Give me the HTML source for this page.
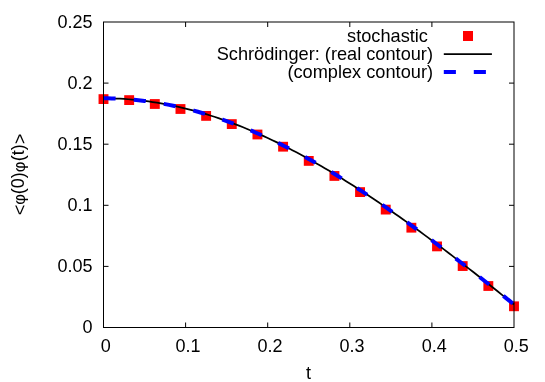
<!DOCTYPE html>
<html><head><meta charset="utf-8"><title>plot</title>
<style>
html,body{margin:0;padding:0;background:#fff;}
svg{display:block;will-change:transform;}
text{font-family:"Liberation Sans",sans-serif;font-size:18px;fill:#000;}
</style></head><body>
<svg width="545" height="382" viewBox="0 0 545 382">
<rect width="545" height="382" fill="#fff"/>
<g fill="#ff0000"><rect x="98.55" y="94.20" width="9.9" height="9.8"/><rect x="124.21" y="95.20" width="9.9" height="9.8"/><rect x="149.86" y="99.10" width="9.9" height="9.8"/><rect x="175.52" y="104.10" width="9.9" height="9.8"/><rect x="201.18" y="111.00" width="9.9" height="9.8"/><rect x="226.83" y="119.20" width="9.9" height="9.8"/><rect x="252.49" y="129.60" width="9.9" height="9.8"/><rect x="278.14" y="141.80" width="9.9" height="9.8"/><rect x="303.80" y="156.00" width="9.9" height="9.8"/><rect x="329.46" y="171.05" width="9.9" height="9.8"/><rect x="355.11" y="187.20" width="9.9" height="9.8"/><rect x="380.77" y="204.70" width="9.9" height="9.8"/><rect x="406.43" y="222.80" width="9.9" height="9.8"/><rect x="432.08" y="241.50" width="9.9" height="9.8"/><rect x="457.74" y="261.15" width="9.9" height="9.8"/><rect x="483.39" y="281.10" width="9.9" height="9.8"/><rect x="509.05" y="301.40" width="9.9" height="9.8"/><rect x="463" y="31" width="10" height="10"/></g>
<path d="M103.50,98.33 L107.61,98.35 L111.71,98.43 L115.81,98.56 L119.92,98.74 L124.03,98.97 L128.13,99.25 L132.24,99.59 L136.34,99.97 L140.44,100.41 L144.55,100.90 L148.66,101.44 L152.76,102.03 L156.87,102.67 L160.97,103.36 L165.07,104.10 L169.18,104.89 L173.29,105.73 L177.39,106.62 L181.50,107.55 L185.60,108.54 L189.70,109.58 L193.81,110.66 L197.92,111.79 L202.02,112.97 L206.12,114.20 L210.23,115.47 L214.34,116.79 L218.44,118.16 L222.54,119.57 L226.65,121.03 L230.75,122.53 L234.86,124.08 L238.97,125.67 L243.07,127.31 L247.18,128.98 L251.28,130.71 L255.38,132.47 L259.49,134.27 L263.60,136.12 L267.70,138.01 L271.81,139.94 L275.91,141.90 L280.01,143.91 L284.12,145.95 L288.23,148.04 L292.33,150.16 L296.44,152.32 L300.54,154.51 L304.64,156.74 L308.75,159.01 L312.86,161.31 L316.96,163.64 L321.06,166.01 L325.17,168.41 L329.27,170.84 L333.38,173.31 L337.49,175.80 L341.59,178.33 L345.69,180.89 L349.80,183.47 L353.90,186.09 L358.01,188.73 L362.12,191.40 L366.22,194.09 L370.32,196.82 L374.43,199.57 L378.54,202.34 L382.64,205.14 L386.75,207.96 L390.85,210.81 L394.95,213.68 L399.06,216.57 L403.17,219.48 L407.27,222.41 L411.38,225.37 L415.48,228.34 L419.58,231.33 L423.69,234.35 L427.80,237.38 L431.90,240.43 L436.00,243.49 L440.11,246.57 L444.22,249.67 L448.32,252.79 L452.43,255.92 L456.53,259.07 L460.63,262.23 L464.74,265.40 L468.85,268.59 L472.95,271.79 L477.06,275.01 L481.16,278.24 L485.27,281.48 L489.37,284.74 L493.48,288.00 L497.58,291.28 L501.69,294.57 L505.79,297.87 L509.89,301.18 L514.00,304.51" fill="none" stroke="#000" stroke-width="1.75"/>
<line x1="443.8" y1="54" x2="491.9" y2="54" stroke="#000" stroke-width="1.75"/>
<path d="M103.50,98.33 L107.61,98.35 L111.71,98.43 L115.81,98.56 L119.92,98.74 L124.03,98.97 L128.13,99.25 L132.24,99.59 L136.34,99.97 L140.44,100.41 L144.55,100.90 L148.66,101.44 L152.76,102.03 L156.87,102.67 L160.97,103.36 L165.07,104.10 L169.18,104.89 L173.29,105.73 L177.39,106.62 L181.50,107.55 L185.60,108.54 L189.70,109.58 L193.81,110.66 L197.92,111.79 L202.02,112.97 L206.12,114.20 L210.23,115.47 L214.34,116.79 L218.44,118.16 L222.54,119.57 L226.65,121.03 L230.75,122.53 L234.86,124.08 L238.97,125.67 L243.07,127.31 L247.18,128.98 L251.28,130.71 L255.38,132.47 L259.49,134.27 L263.60,136.12 L267.70,138.01 L271.81,139.94 L275.91,141.90 L280.01,143.91 L284.12,145.95 L288.23,148.04 L292.33,150.16 L296.44,152.32 L300.54,154.51 L304.64,156.74 L308.75,159.01 L312.86,161.31 L316.96,163.64 L321.06,166.01 L325.17,168.41 L329.27,170.84 L333.38,173.31 L337.49,175.80 L341.59,178.33 L345.69,180.89 L349.80,183.47 L353.90,186.09 L358.01,188.73 L362.12,191.40 L366.22,194.09 L370.32,196.82 L374.43,199.57 L378.54,202.34 L382.64,205.14 L386.75,207.96 L390.85,210.81 L394.95,213.68 L399.06,216.57 L403.17,219.48 L407.27,222.41 L411.38,225.37 L415.48,228.34 L419.58,231.33 L423.69,234.35 L427.80,237.38 L431.90,240.43 L436.00,243.49 L440.11,246.57 L444.22,249.67 L448.32,252.79 L452.43,255.92 L456.53,259.07 L460.63,262.23 L464.74,265.40 L468.85,268.59 L472.95,271.79 L477.06,275.01 L481.16,278.24 L485.27,281.48 L489.37,284.74 L493.48,288.00 L497.58,291.28 L501.69,294.57 L505.79,297.87 L509.89,301.18 L514.00,304.51" fill="none" stroke="#0000ff" stroke-width="4" stroke-dasharray="12.1 18.21"/>
<line x1="443.8" y1="72.05" x2="491.9" y2="72.05" stroke="#0000ff" stroke-width="4" stroke-dasharray="12.1 17.9"/>
<g stroke="#000" stroke-width="1" fill="none"><line x1="185.60" y1="327.5" x2="185.60" y2="322.5"/><line x1="185.60" y1="22.0" x2="185.60" y2="27.0"/><line x1="267.70" y1="327.5" x2="267.70" y2="322.5"/><line x1="267.70" y1="22.0" x2="267.70" y2="27.0"/><line x1="349.80" y1="327.5" x2="349.80" y2="322.5"/><line x1="349.80" y1="22.0" x2="349.80" y2="27.0"/><line x1="431.90" y1="327.5" x2="431.90" y2="322.5"/><line x1="431.90" y1="22.0" x2="431.90" y2="27.0"/><line x1="103.5" y1="266.40" x2="108.5" y2="266.40"/><line x1="514.0" y1="266.40" x2="509.0" y2="266.40"/><line x1="103.5" y1="205.30" x2="108.5" y2="205.30"/><line x1="514.0" y1="205.30" x2="509.0" y2="205.30"/><line x1="103.5" y1="144.20" x2="108.5" y2="144.20"/><line x1="514.0" y1="144.20" x2="509.0" y2="144.20"/><line x1="103.5" y1="83.10" x2="108.5" y2="83.10"/><line x1="514.0" y1="83.10" x2="509.0" y2="83.10"/>
<rect x="103.5" y="22.0" width="410.5" height="305.5"/></g>
<g><text x="105.80" y="352" text-anchor="middle">0</text><text x="187.90" y="352" text-anchor="middle">0.1</text><text x="270.00" y="352" text-anchor="middle">0.2</text><text x="352.10" y="352" text-anchor="middle">0.3</text><text x="434.20" y="352" text-anchor="middle">0.4</text><text x="516.30" y="352" text-anchor="middle">0.5</text><text x="92.6" y="333.40" text-anchor="end">0</text><text x="92.6" y="272.30" text-anchor="end">0.05</text><text x="92.6" y="211.20" text-anchor="end">0.1</text><text x="92.6" y="150.10" text-anchor="end">0.15</text><text x="92.6" y="89.00" text-anchor="end">0.2</text><text x="92.6" y="27.90" text-anchor="end">0.25</text></g>
<text x="433" y="41.8" text-anchor="end" style="font-size:18.2px" xml:space="preserve">stochastic </text>
<text x="433" y="59.9" text-anchor="end" style="font-size:18.2px">Schrödinger: (real contour)</text>
<text x="433" y="77.5" text-anchor="end" style="font-size:18.2px">(complex contour)</text>
<text x="308.5" y="379" text-anchor="middle">t</text>
<text transform="translate(24.2,215.2) rotate(-90)"><tspan dy="1.5">&lt;</tspan><tspan dy="-0.6" style="font-size:16.5px">φ</tspan><tspan dx="-0.35" dy="-0.9">(0)</tspan><tspan dy="0.9" style="font-size:16.5px">φ</tspan><tspan dx="0.3" dy="-0.9">(t)</tspan><tspan dy="1.5">&gt;</tspan></text>
</svg>
</body></html>
